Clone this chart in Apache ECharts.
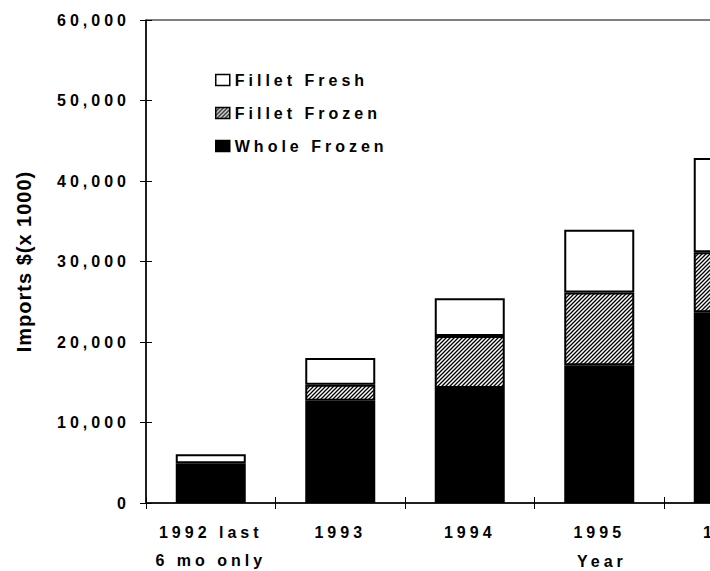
<!DOCTYPE html>
<html>
<head>
<meta charset="utf-8">
<script src="https://cdn.jsdelivr.net/npm/echarts@6/dist/echarts.min.js"></script>
<style>
  html, body { margin: 0; padding: 0; background: #fff; }
  #chart { width: 710px; height: 571px; }
  /* the old spreadsheet export spaces its letters out */
  #chart text { letter-spacing: 4px; }
  #chart text[style*="Arial"] { letter-spacing: 1px; }
</style>
</head>
<body>
<div id="chart"></div>
<script>
// Imports $(x 1000) by product form
const years = ['1992 last\n6 mo only', '1993', '1994', '1995', '1996']
const wholeFrozen = [4600, 12700, 14300, 17100, 23700]
const filletFrozen = [340, 2000, 6450, 9050, 7450]
const filletFresh = [1110, 3300, 4700, 7800, 11700]
const legendNames = ['Fillet Fresh', 'Fillet Frozen', 'Whole Frozen']

// diagonal hatch for the fillet frozen segment
const tile = document.createElement('canvas')
tile.width = 4
tile.height = 4
const tctx = tile.getContext('2d')
tctx.fillStyle = '#fff'
tctx.fillRect(0, 0, 4, 4)
tctx.strokeStyle = '#000'
tctx.lineWidth = 1.3
tctx.beginPath()
tctx.moveTo(-1, 5); tctx.lineTo(5, -1)
tctx.moveTo(-1, 1); tctx.lineTo(1, -1)
tctx.moveTo(3, 5); tctx.lineTo(5, 3)
tctx.stroke()
const hatch = { image: tile, repeat: 'repeat', imageWidth: 4, imageHeight: 4 }

const font = 'Liberation Sans'
const labelStyle = { color: '#000', fontSize: 16, fontWeight: 'bold', fontFamily: font }

const chart = echarts.init(document.getElementById('chart'), null, { renderer: 'svg' })

const barSeries = (name, data, color) => ({
  name,
  type: 'bar',
  stack: 'imports',
  data,
  barWidth: 70,
  itemStyle: { color, borderColor: '#000', borderWidth: 2 },
  emphasis: { disabled: true }
})

chart.setOption({
  animation: false,
  title: {
    text: 'Year',
    left: 577,
    top: 553,
    padding: 0,
    textStyle: { ...labelStyle }
  },
  legend: {
    data: legendNames,
    orient: 'vertical',
    left: 215,
    top: 72,
    padding: 0,
    itemWidth: 14,
    itemHeight: 11,
    itemGap: 17,
    icon: 'rect',
    selectedMode: false,
    textStyle: { ...labelStyle },
    itemStyle: { borderWidth: 1.5, borderColor: '#000' }
  },
  grid: {
    left: 146,
    top: 20,
    width: 647.5,
    height: 483,
    show: true,
    borderColor: '#000',
    borderWidth: 1,
    containLabel: false,
    outerBoundsMode: 'none'
  },
  xAxis: [
    {
      type: 'category',
      data: years,
      position: 'bottom',
      axisLine: { lineStyle: { color: '#000', width: 1.5 } },
      axisTick: { show: true, length: 6, lineStyle: { color: '#000' } },
      axisLabel: { ...labelStyle, margin: 15, lineHeight: 28, interval: 0 }
    },
    {
      type: 'category',
      data: years,
      position: 'bottom',
      axisLine: { show: false },
      axisTick: { show: true, inside: true, length: 6, lineStyle: { color: '#000' } },
      axisLabel: { show: false }
    }
  ],
  yAxis: [
    {
      type: 'value',
      min: 0,
      max: 60000,
      interval: 10000,
      position: 'left',
      name: 'Imports $(x 1000)',
      nameLocation: 'middle',
      nameGap: 112,
      nameTextStyle: { color: '#000', fontSize: 20, fontWeight: 'bold', fontFamily: 'Arial, Liberation Sans' },
      axisLine: { show: true, lineStyle: { color: '#000', width: 1.5 } },
      axisTick: { show: true, length: 6, lineStyle: { color: '#000' } },
      splitLine: { show: false },
      axisLabel: {
        ...labelStyle,
        margin: 16,
        formatter: v => v.toLocaleString('en-US')
      }
    },
    {
      type: 'value',
      min: 0,
      max: 60000,
      interval: 10000,
      position: 'left',
      axisLine: { show: false },
      axisTick: { show: true, inside: true, length: 6, lineStyle: { color: '#000' } },
      splitLine: { show: false },
      axisLabel: { show: false }
    }
  ],
  series: [
    barSeries('Whole Frozen', wholeFrozen, '#000'),
    barSeries('Fillet Frozen', filletFrozen, hatch),
    barSeries('Fillet Fresh', filletFresh, '#fff')
  ]
})
</script>
</body>
</html>
